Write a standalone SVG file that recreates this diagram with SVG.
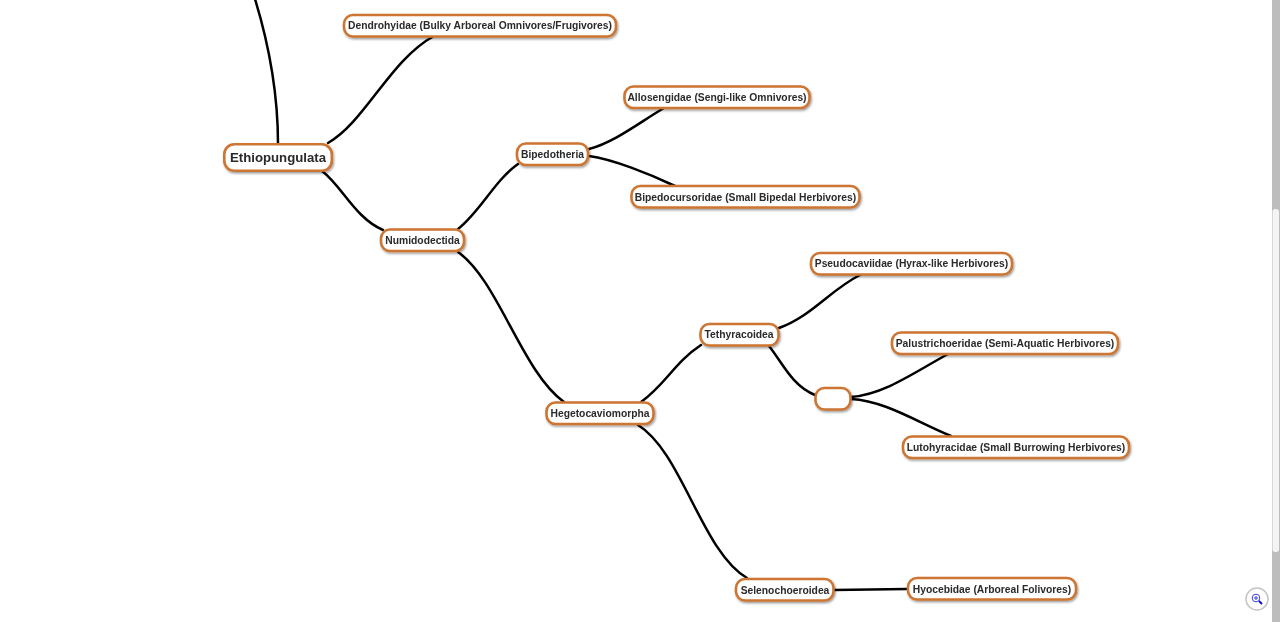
<svg xmlns="http://www.w3.org/2000/svg" width="1280" height="622" viewBox="0 0 1280 622">
<defs>
<filter id="sh" x="-10%" y="-30%" width="120%" height="170%"><feDropShadow dx="1" dy="1.5" stdDeviation="1.3" flood-color="#000" flood-opacity="0.4"/></filter>
<filter id="soft" x="-5%" y="-20%" width="110%" height="140%"><feGaussianBlur stdDeviation="0.3"/></filter>
</defs>
<style>
.n{fill:#fff;stroke:#cd7430;stroke-width:2.6;filter:url(#sh)}
.t{font-family:"Liberation Sans",Arial,sans-serif;font-weight:700;font-size:10.3px;fill:#2a2a2a;text-anchor:middle;filter:url(#soft)}
.big{font-size:13.2px}
.c{fill:none;stroke:#000;stroke-width:2.5;stroke-linecap:round}
</style>
<rect width="1280" height="622" fill="#fff"/>
<g id="connectors">
<path class="c" d="M255 -1C266 35 278 85 278 144"/>
<path class="c" d="M328 143C365 122 390 60 434 36"/>
<path class="c" d="M322 171C342 186 355 218 383 230"/>
<path class="c" d="M458 229C480 212 495 180 518 164"/>
<path class="c" d="M458 252C498 280 522 372 564 402"/>
<path class="c" d="M589 149C615 142 640 122 664 108"/>
<path class="c" d="M589 156C612 159 650 174 675 186"/>
<path class="c" d="M641 402C665 385 675 362 701 345"/>
<path class="c" d="M638 425C682 452 702 552 747 578"/>
<path class="c" d="M779 328C812 316 830 290 860 275"/>
<path class="c" d="M769 346C782 362 792 386 815 395"/>
<path class="c" d="M851 397C885 394 915 372 948 354"/>
<path class="c" d="M851 399C885 401 915 421 951 436"/>
<path class="c" d="M834 590L907 589"/>
</g>
<g id="n-ethiopungulata"><rect class="n" x="224.300" y="144.300" width="107.500" height="26.500" rx="10"/><text class="t big" x="278" y="161.500">Ethiopungulata</text></g>
<g id="n-dendrohyidae"><rect class="n" x="344" y="15" width="272" height="21.500" rx="9"/><text class="t" x="480" y="29">Dendrohyidae (Bulky Arboreal Omnivores/Frugivores)</text></g>
<g id="n-numidodectida"><rect class="n" x="381" y="229.500" width="83" height="21.500" rx="9"/><text class="t" x="422.500" y="243.500">Numidodectida</text></g>
<g id="n-bipedotheria"><rect class="n" x="517" y="143.500" width="71" height="21.500" rx="9"/><text class="t" x="552.500" y="157.500">Bipedotheria</text></g>
<g id="n-allosengidae"><rect class="n" x="624.500" y="86.500" width="185" height="21.500" rx="9"/><text class="t" x="717" y="100.500">Allosengidae (Sengi-like Omnivores)</text></g>
<g id="n-bipedocursoridae"><rect class="n" x="631.500" y="186" width="228" height="21.500" rx="9"/><text class="t" x="745.500" y="200.500">Bipedocursoridae (Small Bipedal Herbivores)</text></g>
<g id="n-pseudocaviidae"><rect class="n" x="811" y="253" width="201" height="21.500" rx="9"/><text class="t" x="911.500" y="267">Pseudocaviidae (Hyrax-like Herbivores)</text></g>
<g id="n-tethyracoidea"><rect class="n" x="700.500" y="324" width="78" height="21.500" rx="9"/><text class="t" x="739" y="338">Tethyracoidea</text></g>
<g id="n-blank"><rect class="n" x="815.500" y="388" width="35" height="21.500" rx="9"/></g>
<g id="n-palustrichoeridae"><rect class="n" x="892" y="332.500" width="226" height="21.500" rx="9"/><text class="t" x="1005" y="346.500">Palustrichoeridae (Semi-Aquatic Herbivores)</text></g>
<g id="n-lutohyracidae"><rect class="n" x="903" y="436.500" width="226" height="21.500" rx="9"/><text class="t" x="1016" y="450.500">Lutohyracidae (Small Burrowing Herbivores)</text></g>
<g id="n-hegetocaviomorpha"><rect class="n" x="546.500" y="402.500" width="107" height="21.500" rx="9"/><text class="t" x="600" y="416.500">Hegetocaviomorpha</text></g>
<g id="n-selenochoeroidea"><rect class="n" x="736" y="579" width="97.500" height="21.500" rx="9"/><text class="t" x="785" y="593.500">Selenochoeroidea</text></g>
<g id="n-hyocebidae"><rect class="n" x="908" y="578" width="168" height="21.500" rx="9"/><text class="t" x="992" y="593">Hyocebidae (Arboreal Folivores)</text></g>
<rect x="1272" y="0" width="8" height="622" fill="#bdbdbd"/>
<rect x="1272.500" y="209" width="6.500" height="343" rx="3" fill="#f4f4f4"/>
<circle cx="1257" cy="599" r="11" fill="#fff" stroke="#c4c4c4" stroke-width="1.500"/>
<circle cx="1256" cy="598" r="3.800" fill="none" stroke="#3a3ae0" stroke-width="1"/>
<path d="M1254 598h4M1256 596v4" stroke="#3a3ae0" stroke-width="1" fill="none"/>
<path d="M1259 601l3 3" stroke="#1010c0" stroke-width="2" fill="none"/>
</svg>
